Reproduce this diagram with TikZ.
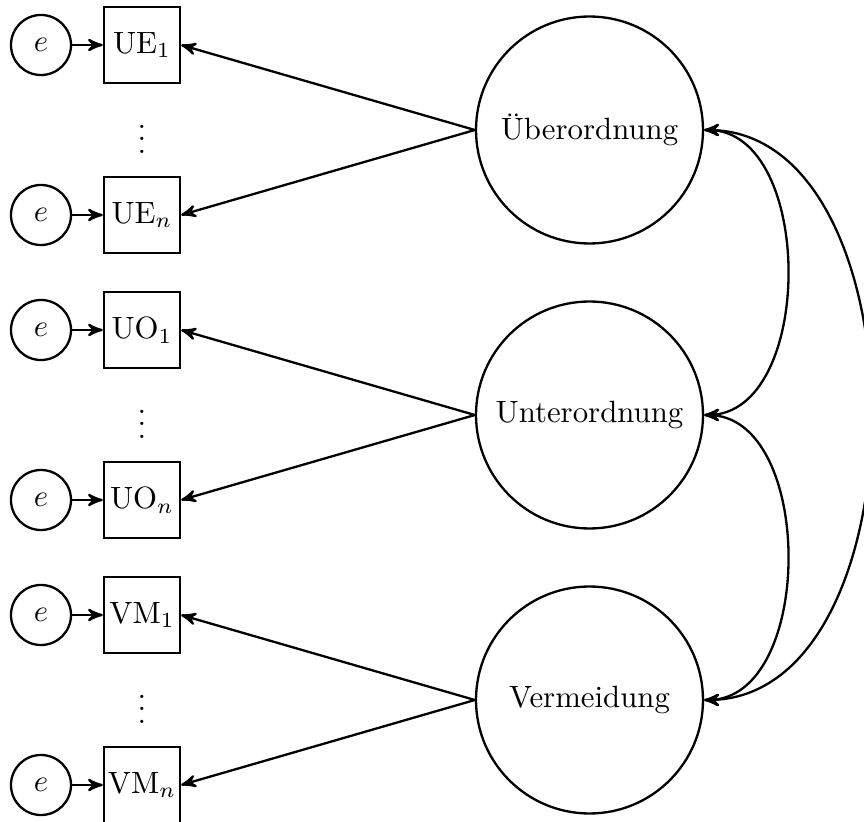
\documentclass[tikz,border=0pt]{standalone}
\usetikzlibrary{arrows}
\begin{document}
\begin{tikzpicture}[x=0.3247pt,y=-0.3247pt,>=stealth',
  every path/.style={line width=0.75pt},
  errnode/.style={circle,draw,line width=0.75pt,minimum size=19.5pt,inner sep=0pt},
  obsnode/.style={rectangle,draw,line width=0.75pt,minimum size=24.7pt,inner sep=1pt},
  latnode/.style={circle,draw,line width=0.75pt,minimum size=73.7pt,inner sep=0pt},
  conn/.style={->,line width=0.75pt},
  cov/.style={<->,line width=0.75pt}]
\useasboundingbox (0,0) rectangle (864,822);
% observed
\node[obsnode] (ue1) at (142,45) {UE$_1$};
\node[obsnode] (uen) at (142,215) {UE$_n$};
\node[obsnode] (uo1) at (142,330) {UO$_1$};
\node[obsnode] (uon) at (142,500) {UO$_n$};
\node[obsnode] (vm1) at (142,615) {VM$_1$};
\node[obsnode] (vmn) at (142,785) {VM$_n$};
\node (d1) at (142,130) {$\vdots$};
\node (d2) at (142,415) {$\vdots$};
\node (d3) at (142,700) {$\vdots$};
% errors
\node[errnode] (e1) at (41,45) {$e$};
\node[errnode] (e2) at (41,215) {$e$};
\node[errnode] (e3) at (41,330) {$e$};
\node[errnode] (e4) at (41,500) {$e$};
\node[errnode] (e5) at (41,615) {$e$};
\node[errnode] (e6) at (41,785) {$e$};
% latent
\node[latnode] (ueb) at (589.5,130) {Überordnung};
\node[latnode] (unt) at (589.5,415) {Unterordnung};
\node[latnode] (ver) at (589.5,700) {Vermeidung};
% error arrows
\draw[conn] (e1) -- (ue1);
\draw[conn] (e2) -- (uen);
\draw[conn] (e3) -- (uo1);
\draw[conn] (e4) -- (uon);
\draw[conn] (e5) -- (vm1);
\draw[conn] (e6) -- (vmn);
% loadings
\draw[conn] (ueb.west) -- (ue1.east);
\draw[conn] (ueb.west) -- (uen.east);
\draw[conn] (unt.west) -- (uo1.east);
\draw[conn] (unt.west) -- (uon.east);
\draw[conn] (ver.west) -- (vm1.east);
\draw[conn] (ver.west) -- (vmn.east);
% covariances
\draw[cov] (ueb.east) to[out=0,in=0] (unt.east);
\draw[cov] (unt.east) to[out=0,in=0] (ver.east);
\draw[cov] (ueb.east) to[out=0,in=0] (ver.east);
\end{tikzpicture}
\end{document}
